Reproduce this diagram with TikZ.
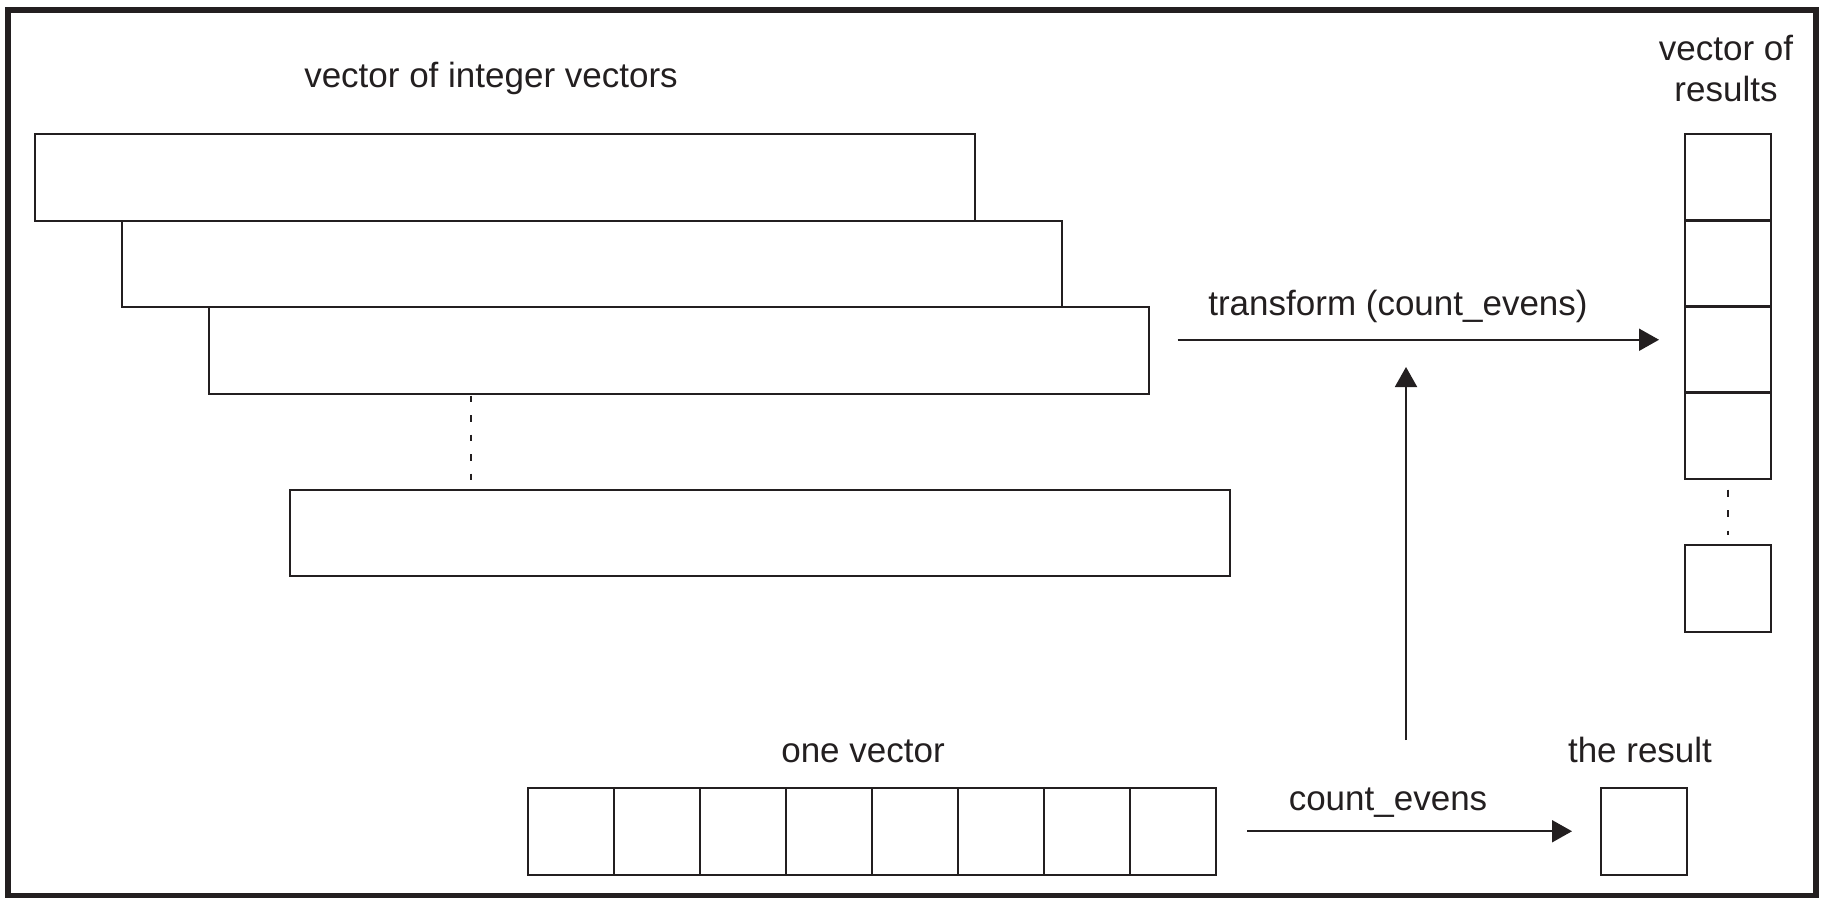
\documentclass[tikz,border=0pt]{standalone}
\usepackage{fontspec}
\setmainfont{Liberation Sans}
\usetikzlibrary{arrows.meta}
\definecolor{ink}{HTML}{231F20}
\begin{document}
\begin{tikzpicture}[x=1pt,y=-1pt,
  every node/.style={text=ink},
  lbl/.style={font=\fontsize{35pt}{41pt}\selectfont, inner sep=0pt, anchor=base},
  cell/.style={draw=ink, line width=2pt, minimum width=86pt, minimum height=86.5pt, inner sep=0pt, anchor=north west},
  longbox/.style={draw=ink, line width=2pt, minimum width=940pt, minimum height=86.5pt, inner sep=0pt, anchor=north west},
  arr/.style={draw=ink, line width=2pt, -{Triangle[length=20pt,width=22pt]}},
  dots/.style={draw=ink, line width=2pt, dash pattern=on 6.5pt off 13pt}]
\useasboundingbox (0,0) rectangle (1825,904);
\draw[line width=5.5pt, ink] (8,10) rectangle (1816,895.5);

% vector of integer vectors
\node[lbl] (title) at (491,87.3) {vector of integer vectors};
\node[longbox] (b1) at (34,133) {};
\node[longbox] (b2) at (121,219.5) {};
\node[longbox] (b3) at (207.5,306) {};
\node[longbox] (b4) at (289,488.5) {};
\coordinate (dx) at (471,0);
\draw[dots] ([yshift=-1pt]b3.south -| dx) -- ([yshift=9pt]b4.north -| dx);

% vector of results
\node[lbl, align=center] (vrlab) at (1726,102) {vector of\\results};
\foreach \i in {1,...,4}
  \node[cell] (r\i) at (1684,{133+86*(\i-1)}) {};
\node[cell] (r5) at (1684,544) {};
\draw[dots, dash pattern=on 7pt off 13.5pt] ([yshift=-10pt]r4.south) -- ([yshift=9pt]r5.north);

% transform arrow
\coordinate (ts) at ([xshift=28pt,yshift=10.5pt]b3.east);
\draw[arr] (ts) -- ([xshift=-25pt]ts -| r3.west);
\node[lbl] (tlab) at (1398,315) {transform (count\_evens)};

% vertical arrow
\coordinate (vb) at (1406,740);
\coordinate (vt) at (1406,367);
\draw[arr] (vb) -- (vt);

% one vector
\node[lbl] (ovlab) at (863,762) {one vector};
\foreach \i in {1,...,8}
  \node[cell] (v\i) at ({527+86*(\i-1)},787) {};

% the result
\node[lbl] (rlab) at (1640,762) {the result};
\node[cell] (res) at (1600,787) {};
\draw[arr] ([xshift=30pt]v8.east) -- ([xshift=-28pt]res.west);
\node[lbl] (clab) at (1388,810) {count\_evens};
\end{tikzpicture}
\end{document}
